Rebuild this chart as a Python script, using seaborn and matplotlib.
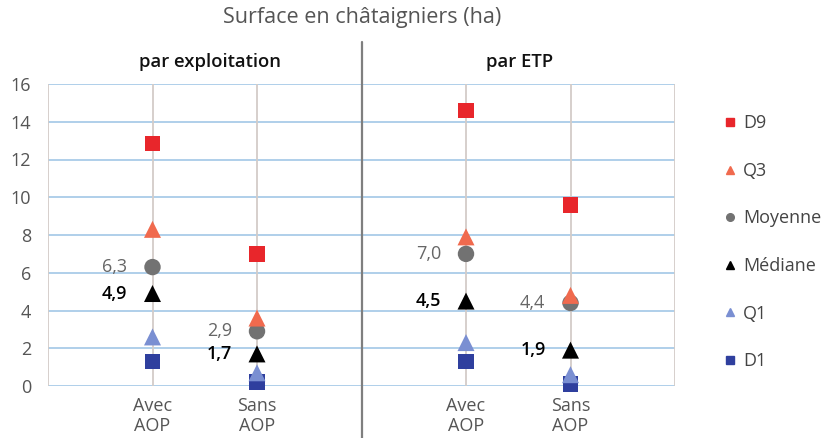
import numpy as np
import pandas as pd
import matplotlib
matplotlib.use("Agg")
import matplotlib.pyplot as plt
from matplotlib.lines import Line2D
from matplotlib.transforms import blended_transform_factory
import seaborn as sns

# Statistics of chestnut-orchard area (ha)
stats = ["D9", "Q3", "Moyenne", "Médiane", "Q1", "D1"]
groups = ["Avec\nAOP", "Sans\nAOP", "Avec\nAOP", "Sans\nAOP"]
positions = [1, 2, 4, 5]
panels = ["par exploitation", "par ETP"]

d9 = [12.85, 7.0, 14.6, 9.6]
q3 = [8.3, 3.6, 7.9, 4.8]
moyenne = [6.3, 2.9, 7.0, 4.4]
mediane = [4.9, 1.7, 4.5, 1.9]
q1 = [2.6, 0.7, 2.3, 0.6]
d1 = [1.3, 0.2, 1.3, 0.1]

colors = {"D9": "#e8262b", "Q3": "#f06a4e", "Moyenne": "#727272",
          "Médiane": "#000000", "Q1": "#7a8fd2", "D1": "#2f3f9e"}
markers = {"D9": "s", "Q3": "^", "Moyenne": "o", "Médiane": "^",
           "Q1": "^", "D1": "s"}

values = {"D9": d9, "Q3": q3, "Moyenne": moyenne, "Médiane": mediane,
          "Q1": q1, "D1": d1}
rows = []
for s in stats:
    for p, v in zip(positions, values[s]):
        rows.append({"pos": p, "value": v, "stat": s})
df = pd.DataFrame(rows)

sns.set_style("white")
plt.rcParams["font.family"] = ["Open Sans", "DejaVu Sans"]

fig = plt.figure(figsize=(8.24, 4.38), dpi=100)
ax = fig.add_axes([48 / 824, 1 - 386 / 438, (675 - 48) / 824, (386 - 84) / 438])

ax.set_xlim(0, 6)
ax.set_ylim(0, 16)

# grid
for y in range(0, 17, 2):
    ax.axhline(y, color="#a9cbe8", lw=1.3, zorder=0)
for x in [0, 1, 2, 4, 5, 6]:
    ax.axvline(x, color="#d3ccc8", lw=1.3, zorder=0)

# draw lower series first so upper ones sit on top
order = ["D1", "Q1", "Médiane", "Moyenne", "Q3", "D9"]
sizes = {"s": 125, "^": 150, "o": 140}
for s in order:
    sub = df[df["stat"] == s]
    sns.scatterplot(data=sub, x="pos", y="value", ax=ax, color=colors[s],
                    marker=markers[s], s=sizes[markers[s]],
                    edgecolor="none", linewidth=0, legend=False, zorder=3,
                    clip_on=False)

# value labels for mean and median
for p, v in zip(positions, moyenne):
    ax.annotate(f"{v:.1f}".replace(".", ","), (p, v), xytext=(-18, 0),
                textcoords="offset points", ha="right", va="center",
                fontsize=13, color="#666666")
for p, v in zip(positions, mediane):
    ax.annotate(f"{v:.1f}".replace(".", ","), (p, v), xytext=(-18, 0),
                textcoords="offset points", ha="right", va="center",
                fontsize=13, color="#000000", fontweight="semibold")

for sp in ax.spines.values():
    sp.set_visible(False)

ax.set_yticks(range(0, 17, 2))
ax.set_yticklabels([str(v) for v in range(0, 17, 2)], fontsize=13, color="#555555")
ax.set_xticks(positions)
ax.set_xticklabels(groups, fontsize=13, color="#555555", linespacing=1.1)
ax.tick_params(axis="y", length=4, color="#a9cbe8", pad=8)
ax.tick_params(axis="x", length=0, pad=8)
ax.set_xlabel("")
ax.set_ylabel("")

# divider between panels
tr = blended_transform_factory(ax.transData, fig.transFigure)
ax.add_line(Line2D([3, 3], [0, 1 - 42 / 438], transform=tr, color="#7f7f7f",
                   lw=1.6, clip_on=False, zorder=1))

# titles
fig.text(362 / 824, 1 - 18 / 438, "Surface en châtaigniers (ha)", ha="center",
         va="center", fontsize=15.5, color="#555555")
fig.text(210 / 824, 1 - 62 / 438, panels[0], ha="center", va="center",
         fontsize=13.3, color="#111111", fontweight="semibold")
fig.text(520 / 824, 1 - 62 / 438, panels[1], ha="center", va="center",
         fontsize=13.3, color="#111111", fontweight="semibold")

# legend
handles = [Line2D([], [], linestyle="none", marker=markers[s], color=colors[s],
                  markersize=5.5) for s in stats]
fig.legend(handles, stats, loc="upper left", bbox_to_anchor=(716 / 824, 1 - 107 / 438),
           frameon=False, fontsize=13, labelcolor="#444444", labelspacing=1.64,
           handlelength=0.7, handletextpad=0.4, borderaxespad=0)

fig.savefig("out.png", dpi=100, facecolor="white")
